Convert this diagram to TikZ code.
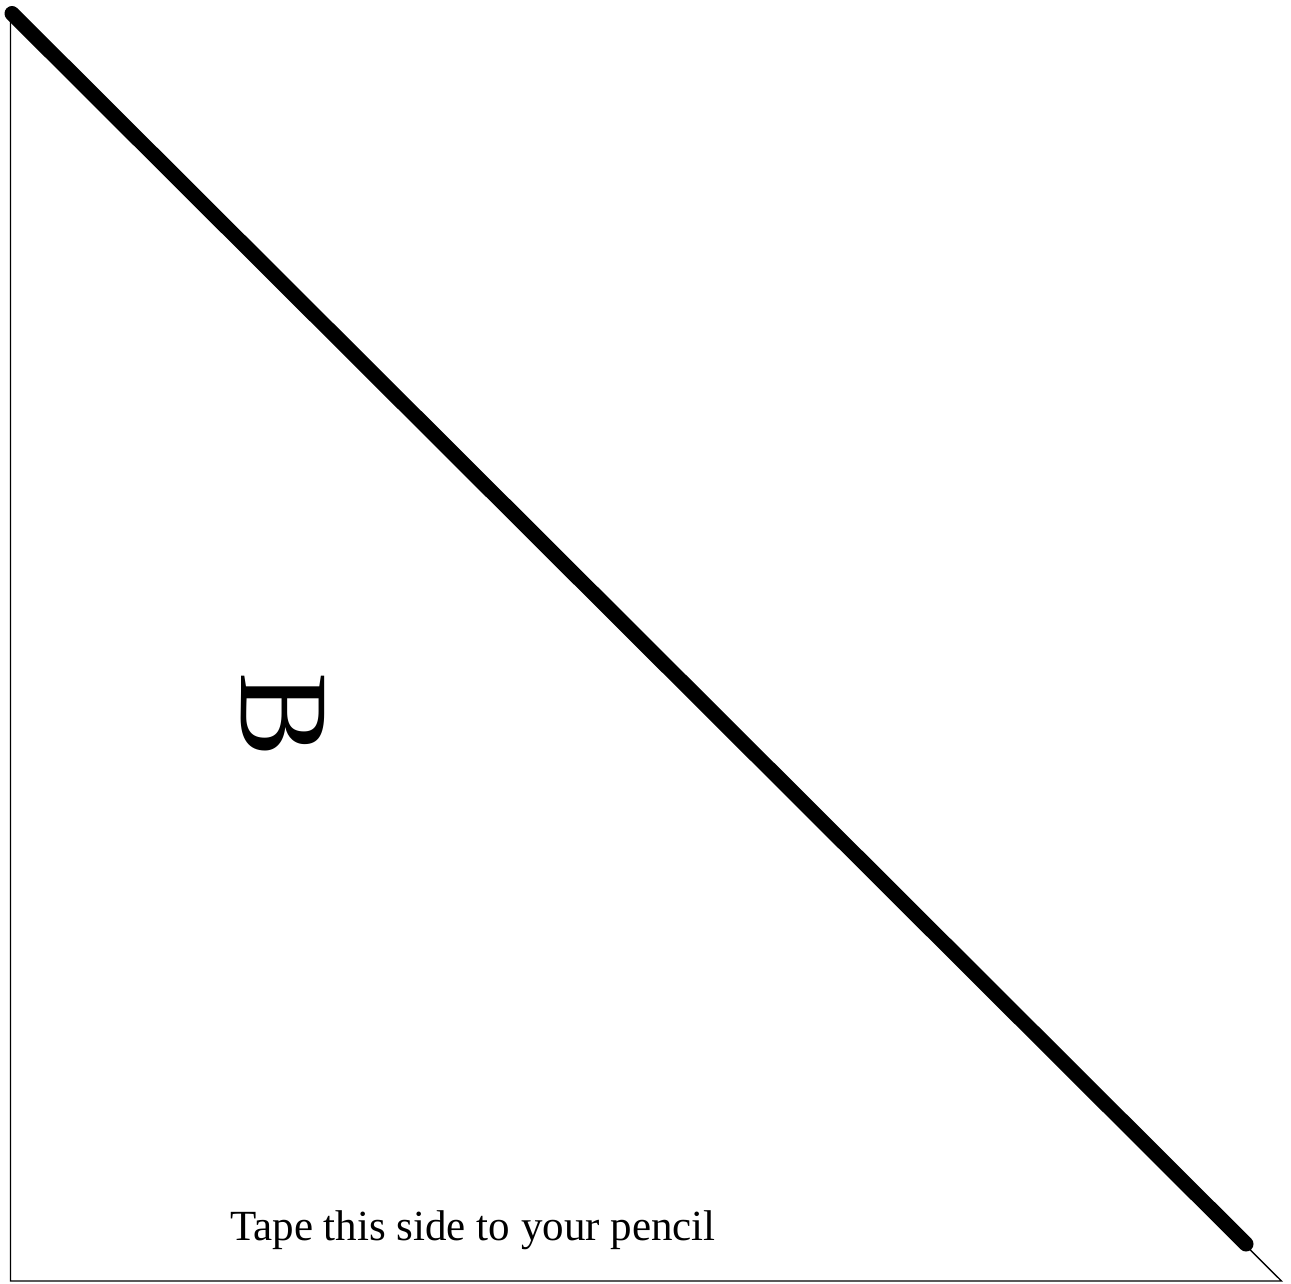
\documentclass[tikz,border=0pt]{standalone}
\usepackage{fontspec}
\setmainfont{Liberation Serif}
\begin{document}
\begin{tikzpicture}[x=1pt,y=-1pt,
  thin edge/.style={line width=1.4pt,black},
  pencil edge/.style={line width=15pt,black,line cap=round}]
\useasboundingbox (0,0) rectangle (1291,1283);
\coordinate (tl) at (10.5,12.5);
\coordinate (bl) at (10.5,1281);
\coordinate (br) at (1281.5,1281);
\coordinate (pe) at (1246,1244);
\draw[thin edge] (tl) -- (bl) -- (br) -- cycle;
\draw[pencil edge] ([xshift=1.5pt,yshift=-1pt]tl) -- (pe);
\node[rotate=-90,inner sep=0pt,font=\fontsize{127}{127}\selectfont] (B) at (283,715) {B};
\node[anchor=base west,inner sep=0pt,font=\fontsize{43}{43}\selectfont] (tape) at (230,1240) {Tape this side to your pencil};
\end{tikzpicture}
\end{document}
